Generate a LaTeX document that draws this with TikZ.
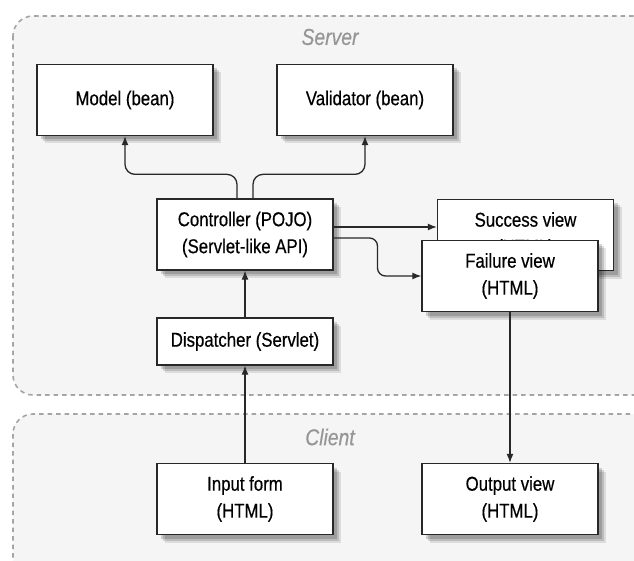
\documentclass[tikz,border=0pt]{standalone}
\usepackage{fontspec}
\setmainfont[FakeStretch=0.84,FakeBold=0.4]{Liberation Sans}
\usepackage{tikz}
\usetikzlibrary{arrows.meta,positioning,calc,shadows}
\definecolor{mvcline}{RGB}{40,40,40}
\definecolor{mvcdash}{RGB}{165,165,165}
\definecolor{mvcfill}{RGB}{245,245,245}
\definecolor{mvclabel}{RGB}{150,150,150}

\begin{document}
\begin{tikzpicture}[x=1pt,y=-1pt,
  region/.style={rounded corners=20pt,draw=mvcdash,fill=mvcfill,line width=1.6pt,
                 dash pattern=on 4.5pt off 4pt},
  rlbl/.style={font=\fontsize{23}{26}\selectfont\itshape,color=mvclabel},
  box/.style={draw=mvcline,line width=1.3pt,fill=white,
              minimum width=176pt,minimum height=71pt,align=center,
              font=\fontsize{20}{27}\selectfont,
              drop shadow={shadow xshift=8pt,shadow yshift=-8pt,fill=black,opacity=.10},
              drop shadow={shadow xshift=6pt,shadow yshift=-6pt,fill=black,opacity=.14},
              drop shadow={shadow xshift=4pt,shadow yshift=-4pt,fill=black,opacity=.16}},
  arr/.style={-{Latex[length=9pt,width=7pt]},line width=1.3pt,color=mvcline}]

  \useasboundingbox[fill=white] (0,0) rectangle (634,561);

  % tiers
  \draw[region] (13,16) rectangle (660,395);
  \draw[region] (13,414) rectangle (660,600);
  \node[rlbl] (server) at (330,37) {Server};
  \node[rlbl] (client) at (330,437) {Client};

  % server side
  \node[box] (model) at (125,100) {Model (bean)};
  \node[box] (valid) at (365,100) {Validator (bean)};
  \node[box] (ctrl) at (245,234.5) {Controller (POJO)\\(Servlet-like API)};
  \node[box] (succ) at (525.5,235) {Success view\\(HTML)};
  \node[box] (fail) at (510,276) {Failure view\\(HTML)};
  \node[box,minimum height=47pt] (disp) at (245,341.5) {Dispatcher (Servlet)};

  % client side
  \node[box] (input) at (245,499) {Input form\\(HTML)};
  \node[box] (output) at (510,499) {Output view\\(HTML)};

  \coordinate (bend) at ($(ctrl.east)!.5!(fail.west)$);

  \draw[arr,rounded corners=10pt] ([xshift=-8pt]ctrl.north) -- ++(0,-24) -| (model.south);
  \draw[arr,rounded corners=10pt] ([xshift=8pt]ctrl.north) -- ++(0,-24) -| (valid.south);
  \draw[arr] ([yshift=7.5pt]ctrl.east) -- ([yshift=7.5pt]ctrl.east -| succ.west);
  \draw[arr,rounded corners=8pt] ([yshift=-3.5pt]ctrl.east) -| (bend) |- (fail.west);
  \draw[arr] (disp) -- (ctrl);
  \draw[arr] (input) -- (disp);
  \draw[arr] (fail) -- (output);
\end{tikzpicture}
\end{document}
